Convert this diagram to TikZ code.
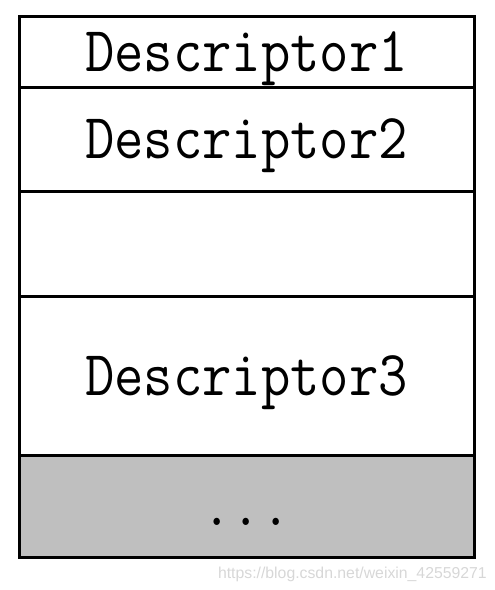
\documentclass[tikz,border=0pt]{standalone}
\usepackage{fontspec}
\usepackage{graphicx}
\newfontfamily\markfont{Liberation Sans}
\usetikzlibrary{positioning}
\definecolor{cellgray}{RGB}{191,191,191}
\definecolor{markgray}{RGB}{215,215,215}
\newcommand{\squeeze}[1]{\scalebox{0.89}[1]{#1}}
\tikzset{
  slot/.style={draw, line width=3pt, minimum width=455pt, inner sep=0pt, outer sep=0pt,
    font=\fontsize{64}{64}\selectfont\ttfamily, text height=39pt, text depth=0pt},
}
\begin{document}
\begin{tikzpicture}[x=1pt,y=-1pt]
\useasboundingbox (0,0) rectangle (495,590);
\node[slot, anchor=north, minimum height=71pt] (d1) at (246.5,16) {\squeeze{Descriptor1}};
\node[slot, minimum height=104pt, below=0pt of d1] (d2) {\squeeze{Descriptor2}};
\node[slot, minimum height=105pt, below=0pt of d2] (gap) {};
\node[slot, minimum height=159pt, below=0pt of gap] (d3) {\squeeze{Descriptor3}};
\node[slot, fill=cellgray, minimum height=102pt, below=0pt of d3] (more) {\squeeze{...}};
% watermark
\node[font=\markfont\fontsize{15.8}{15.8}\selectfont, text=markgray, anchor=base east, inner sep=0pt] (mark) at (487,578) {https://blog.csdn.net/weixin\_42559271};
\end{tikzpicture}
\end{document}
